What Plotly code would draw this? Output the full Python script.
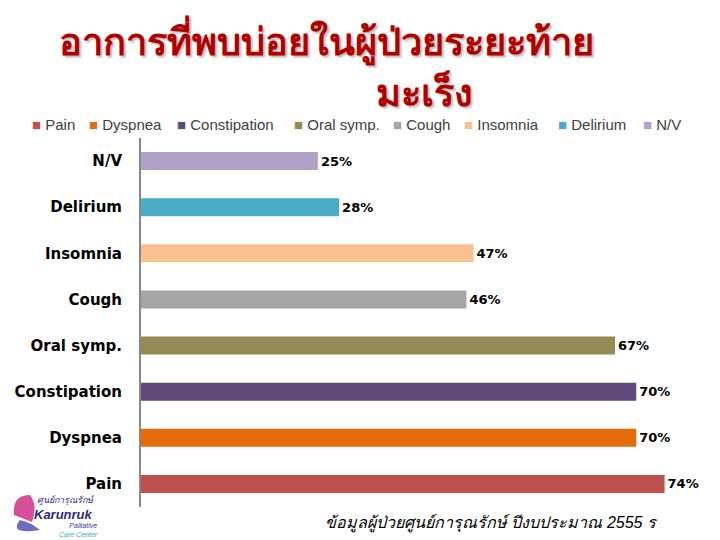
import plotly.graph_objects as go

# ---- data ----
categories = ["Pain", "Dyspnea", "Constipation", "Oral symp.", "Cough", "Insomnia", "Delirium", "N/V"]
values = [74, 70, 70, 67, 46, 47, 28, 25]
colors = ["#C0504D", "#E46C0A", "#604A7B", "#948A54", "#A5A5A5", "#FAC090", "#4BACC6", "#B3A2C7"]
title_lines = ["อาการที่พบบ่อยในผู้ป่วยระยะท้าย", "มะเร็ง"]
footer_text = "ข้อมูลผู้ป่วยศูนย์การุณรักษ์ ปีงบประมาณ 2555 ร"
legend_x_px = [30, 87, 175, 292, 391, 462, 556, 641]

W, H = 720, 540
ML, MR, MT, MB = 141, 13, 138, 33
PW, PH = W - ML - MR, H - MT - MB

def px(x):
    return (x - ML) / PW

def py(y):
    return (H - MB - y) / PH

fig = go.Figure()
fig.add_trace(go.Bar(
    y=categories, x=values, orientation="h",
    marker=dict(color=colors, line=dict(width=0)),
    width=0.39,
    text=[f"{v}%" for v in values], textposition="outside",
    textfont=dict(family="DejaVu Sans", size=13, color="#000000", weight="bold"),
    cliponaxis=False, showlegend=False, hoverinfo="skip",
))

annotations = []
# legend built from categories/colors
for cat, col, lx in zip(categories, colors, legend_x_px):
    annotations.append(dict(
        x=px(lx), y=py(124), xref="paper", yref="paper", xanchor="left", yanchor="middle",
        text=f"<span style='color:{col}'>■</span> {cat}", showarrow=False,
        font=dict(family="Liberation Sans Narrow, Liberation Sans", size=15, color="#404040"),
    ))

# title
title_font = dict(family="DejaVu Sans", size=38, color="#B00000", weight="bold", shadow="2px 2px 2px #bbbbbb")
annotations.append(dict(
    x=px(57), y=py(40), xref="paper", yref="paper", xanchor="left", yanchor="middle",
    text=title_lines[0], showarrow=False, font=title_font,
))
annotations.append(dict(
    x=px(424), y=py(92), xref="paper", yref="paper", xanchor="center", yanchor="middle",
    text=title_lines[1], showarrow=False, font=title_font,
))
# footer
annotations.append(dict(
    x=px(323), y=py(523), xref="paper", yref="paper", xanchor="left", yanchor="middle",
    text=footer_text, showarrow=False,
    font=dict(family="Liberation Sans", size=16, color="#000000", style="italic"),
))
# logo text
annotations.append(dict(x=px(35), y=py(500), xref="paper", yref="paper", xanchor="left", yanchor="middle",
    text="ศูนย์การุณรักษ์", showarrow=False,
    font=dict(family="Liberation Sans", size=9, color="#3a2a80", style="italic")))
annotations.append(dict(x=px(33), y=py(514), xref="paper", yref="paper", xanchor="left", yanchor="middle",
    text="<b><i>Karunruk</i></b>", showarrow=False, borderpad=0,
    font=dict(family="Liberation Sans", size=13, color="#2a2a80")))
annotations.append(dict(x=px(99), y=py(530), xref="paper", yref="paper", xanchor="right", yanchor="middle",
    text="<i>Palliative</i><br><i><span style='color:#30b0d0'>Care Center</span></i>", showarrow=False,
    align="right", borderpad=0,
    font=dict(family="Liberation Sans", size=7, color="#3a3a90")))

shapes = [
    dict(type="path", xref="paper", yref="paper",
         path=f"M {px(14)},{py(515)} Q {px(12)},{py(495)} {px(30)},{py(495)} Q {px(38)},{py(505)} {px(32)},{py(522)} Z",
         fillcolor="#d0308a", line=dict(width=0), opacity=0.85),
    dict(type="path", xref="paper", yref="paper",
         path=f"M {px(20)},{py(520)} Q {px(8)},{py(535)} {px(40)},{py(530)} Q {px(30)},{py(522)} {px(20)},{py(520)} Z",
         fillcolor="#4a4ab0", line=dict(width=0), opacity=0.8),
]

fig.update_layout(
    width=W, height=H,
    margin=dict(l=ML, r=MR, t=MT, b=MB),
    paper_bgcolor="white", plot_bgcolor="white",
    xaxis=dict(range=[0, 80], visible=False, showgrid=False, zeroline=False),
    yaxis=dict(categoryorder="array", categoryarray=categories, showgrid=False, zeroline=False,
               showline=True, linecolor="#888888", linewidth=2, ticks="", ticklabelstandoff=14,
               tickfont=dict(family="DejaVu Sans", size=15, color="#000000", weight="bold")),
    annotations=annotations, shapes=shapes, showlegend=False,
)

fig.write_html("out.html")
